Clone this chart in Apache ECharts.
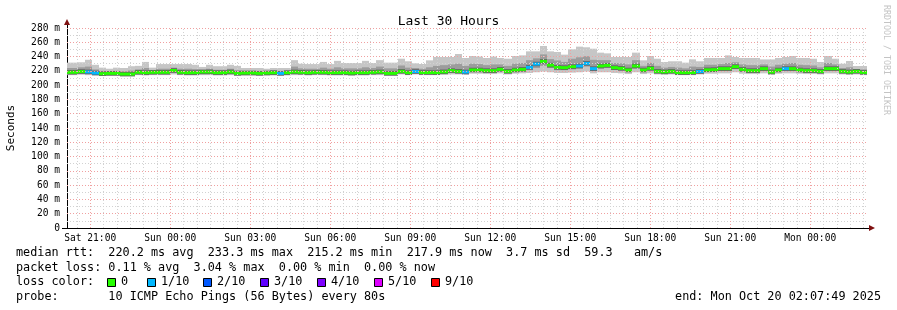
<!DOCTYPE html>
<html>
<head>
    <meta charset="utf-8" />
    <title>Last 30 Hours</title>
    <script src="https://cdn.jsdelivr.net/npm/echarts@6/dist/echarts.min.js"></script>
    <style>
        html, body { margin: 0; padding: 0; background: #fff; }
        #chart { width: 897px; height: 310px; }
    </style>
</head>
<body>
    <div id="chart"></div>
    <script>
        // time in minutes counted from Sat 00:00, one bin = 16 minutes
        var binStart = 1200;
        var binMinutes = 16;
        var viewStart = 1207.8;   // Sat 20:07:49
        var viewEnd = 3007.8;     // Mon 02:07:49

        var medianRtt = [
            218, 218, 219, 218.5, 217, 216, 216.5, 216.5, 215.5, 215.5,
            218, 217.5, 218, 218, 218, 220.5, 218, 217.5, 217.5, 218.5,
            218.5, 217.5, 217.5, 218.5, 216.5, 217, 217, 216.5, 217, 217.5,
            216.5, 217.5, 218.5, 218, 217.5, 218, 218, 217.5, 217.5, 217.5,
            217, 217.5, 217.5, 218, 218.5, 216.5, 216.5, 219.3, 217.5, 219.1,
            217.7, 217.7, 217.5, 218.6, 220.3, 219.3, 218.4, 221.2, 221.2, 220.3,
            220.3, 222.1, 219.3, 221.2, 222.1, 224.9, 229.6, 233.3, 228, 224.9,
            224.5, 225.9, 226.8, 230.5, 223.1, 226.8, 227.7, 224.5, 223.5, 221.2,
            226.8, 221.2, 223.5, 219.3, 218.6, 219.3, 217.5, 217.5, 217.7, 219.1,
            221.4, 221.7, 223.1, 223.1, 225.9, 222.1, 220.3, 220.3, 223.1, 218.4,
            221.2, 223.1, 223.1, 221.2, 220.3, 220.3, 219.3, 223.1, 223.1, 219.3,
            218.4, 219.3, 217.9
        ];
        var maxRtt = [
            231.5, 231.5, 232, 235.5, 228.5, 224.5, 223, 224.5, 224, 226.5,
            227, 232.5, 224.5, 229.5, 229.5, 229.5, 229.5, 229.5, 228.5, 225.5,
            228.5, 226.5, 226.5, 228.5, 227, 224, 224, 224, 223, 224,
            224, 224, 235, 230, 229.5, 229.5, 232.5, 229.5, 234, 231,
            231, 231, 234, 231, 235, 231.5, 231.5, 237, 233.4, 230.5,
            229.6, 234.7, 239.4, 239.4, 239.4, 243.6, 238, 240.8, 240, 238,
            240, 238, 237, 240.8, 241.7, 247.3, 247.3, 254.8, 247.3, 246.4,
            242.7, 250.1, 253.9, 253, 251, 245.5, 244.5, 239.4, 239.4, 239.4,
            245.5, 234.7, 240.8, 237, 232.4, 233.4, 233.4, 231.5, 236.1, 233.4,
            238, 238, 238, 241.7, 239.4, 238, 238, 238, 236, 236,
            238, 239.4, 240.8, 238, 238, 237, 232.4, 240.8, 237, 230,
            233.8, 226.8, 226.8
        ];
        var hiRtt = [
            224, 224, 225, 226, 222, 220, 219.5, 220, 219, 220.5,
            222, 224, 221, 223, 223, 224.5, 223, 223, 222.5, 221.5,
            223, 221.5, 221.5, 223, 221, 220, 220, 220, 219.5, 220.5,
            220, 220.5, 226, 223.5, 223, 223, 224.5, 223, 225, 223.5,
            223.5, 223.5, 225, 224, 226, 223.5, 223.5, 227.5, 224.5, 224,
            223, 225, 227, 228, 229, 230, 227, 230, 229.5, 228,
            229, 229, 227, 230, 231, 235, 237.5, 243, 236.5, 234.5,
            232.5, 237, 239, 240.5, 235.5, 235, 235, 231, 230.5, 229,
            235, 227, 231, 227, 224.5, 225.5, 224.5, 223.5, 226, 225.5,
            228.5, 228.5, 229.5, 231, 232, 229, 228, 228, 229, 226,
            228.5, 230, 231, 228.5, 228, 227.5, 225, 231, 229, 224,
            225, 222.5, 222
        ];
        var loRtt = [
            216, 216, 217, 216.5, 215, 214.5, 214.5, 214.5, 214, 214,
            216, 215.5, 216, 216, 216, 218, 216, 215.5, 215.5, 216.5,
            216.5, 215.5, 215.5, 216.5, 214.5, 215, 215, 214.5, 215, 215.5,
            214.5, 215.5, 216.5, 216, 215.5, 216, 216, 215.5, 215.5, 215.5,
            215, 215.5, 215.5, 216, 216.5, 214.5, 214.5, 217, 215.5, 217,
            215.5, 215.5, 215.5, 216.5, 218, 217, 216.5, 219, 219, 218,
            218, 219.5, 217, 219, 219.5, 221, 224, 227, 224, 221,
            221, 222, 223, 226, 220, 223, 224, 221.5, 220.5, 218.5,
            223, 218.5, 220.5, 217, 216.5, 217, 215.5, 215.5, 215.5, 217,
            219, 219, 220.5, 220.5, 222.5, 219.5, 218, 218, 220.5, 216.5,
            219, 220.5, 220.5, 219, 218, 218, 217, 220.5, 220.5, 217,
            216.5, 217, 216
        ];
        var minRtt = [
            214, 214, 214.5, 214, 213.5, 213, 213, 213, 212.5, 212.5,
            214, 213.5, 214, 214, 214, 215, 214, 213.5, 213.5, 214,
            214, 213.5, 213.5, 214, 213, 213.5, 213.5, 213, 213.5, 213.5,
            213, 213.5, 214, 214, 213.5, 214, 214, 213.5, 213.5, 213.5,
            213, 213.5, 213.5, 214, 214, 213, 213, 215, 214, 215,
            214, 214, 214, 214.5, 215, 215, 214.5, 216, 216, 215.5,
            215.5, 216.5, 215, 216, 216.5, 217, 218, 219, 218, 217,
            217, 217.5, 218, 219, 216.5, 218, 218, 217, 216.5, 215.5,
            218, 215.5, 216.5, 215, 214.5, 215, 214, 214, 214, 215,
            216, 216, 216.5, 216.5, 218, 216, 215.5, 215.5, 216.5, 214.5,
            216, 216.5, 216.5, 216, 215.5, 215.5, 215, 216.5, 216.5, 215,
            214.5, 215, 214
        ];
        // lost pings out of 10, per bin
        var lossTenths = [
            0, 0, 0, 1, 1, 0, 0, 0, 0, 0,
            0, 0, 0, 0, 0, 0, 0, 0, 0, 0,
            0, 0, 0, 0, 0, 0, 0, 0, 0, 0,
            1, 0, 0, 0, 0, 0, 0, 0, 0, 0,
            0, 0, 0, 0, 0, 0, 0, 0, 0, 1,
            0, 0, 0, 0, 0, 0, 1, 0, 0, 0,
            0, 0, 0, 0, 0, 1, 1, 0, 0, 0,
            0, 0, 1, 1, 1, 0, 0, 0, 0, 0,
            0, 0, 0, 0, 0, 0, 0, 0, 0, 1,
            0, 0, 0, 0, 0, 0, 0, 0, 0, 0,
            0, 1, 0, 0, 0, 0, 0, 0, 0, 0,
            0, 0, 0
        ];
        var lossSteps = [0, 1, 2, 3, 4, 5, 9];
        var lossLabels = ['0', '1/10', '2/10', '3/10', '4/10', '5/10', '9/10'];
        var lossColors = ['#26ff00', '#00b8ff', '#0059ff', '#5e00ff', '#7e00ff', '#dd00ff', '#ff0000'];
        var xLabelTimes = [1260, 1440, 1620, 1800, 1980, 2160, 2340, 2520, 2700, 2880];
        var dayNames = ['Sat', 'Sun', 'Mon'];

        var monoFont = '"DejaVu Sans Mono", "Liberation Mono", monospace';
        var redGrid = '#f0a0a0';
        var grayGrid = '#d2d2d2';

        function lossColor(n) {
            var c = lossColors[0];
            for (var i = 0; i < lossSteps.length; i++) {
                if (n >= lossSteps[i]) c = lossColors[i];
            }
            return c;
        }

        var binData = medianRtt.map(function (m, i) {
            var t0 = binStart + i * binMinutes;
            return [t0, t0 + binMinutes, minRtt[i], loRtt[i], hiRtt[i], maxRtt[i], m, lossTenths[i]];
        });

        //绘制 smoke 和 median
        function renderSmoke(params, api) {
            var t0 = api.value(0), t1 = api.value(1);
            function band(lo, hi, color) {
                var p0 = api.coord([t0, hi]);
                var p1 = api.coord([t1, lo]);
                var x0 = Math.round(p0[0]), x1 = Math.round(p1[0]);
                return {
                    type: 'rect',
                    shape: { x: x0, y: p0[1], width: x1 - x0, height: p1[1] - p0[1] },
                    style: { fill: color }
                };
            }
            var med = api.value(6);
            return {
                type: 'group',
                children: [
                    band(api.value(2), api.value(5), '#c6c6c6'),
                    band(api.value(3), api.value(4), '#9c9c9c'),
                    band(med - 3.2, med + 3.2, '#636363'),
                    band(med - 2.1, med + 2.1, lossColor(api.value(7)))
                ]
            };
        }

        // grid lines (drawn over the smoke, like rrdtool)
        var gridLines = [];
        var t, v;
        for (t = 1230; t < viewEnd; t += 30) {
            if (t % 180 !== 0) gridLines.push({ xAxis: t, lineStyle: { color: grayGrid } });
        }
        for (v = 10; v < 280; v += 20) {
            gridLines.push({ yAxis: v, lineStyle: { color: grayGrid } });
        }
        for (t = 1260; t < viewEnd; t += 180) {
            gridLines.push({ xAxis: t, lineStyle: { color: redGrid } });
        }
        for (v = 20; v <= 280; v += 20) {
            gridLines.push({ yAxis: v, lineStyle: { color: redGrid } });
        }

        var graphics = [
            {
                type: 'text', x: 11, y: 128, rotation: Math.PI / 2,
                style: { text: 'Seconds', font: '11px ' + monoFont, fill: '#000', align: 'center', verticalAlign: 'middle' }
            },
            {
                type: 'text', x: 886, y: 60, rotation: -Math.PI / 2,
                style: { text: 'RRDTOOL / TOBI OETIKER', font: '8.3px ' + monoFont, fill: '#c4c4c4', align: 'center', verticalAlign: 'middle' }
            },
            // axis arrows
            { type: 'polygon', shape: { points: [[64, 25], [70, 25], [67, 19]] }, style: { fill: '#7f1010' } },
            { type: 'polygon', shape: { points: [[869, 225], [869, 231], [875, 228]] }, style: { fill: '#7f1010' } },
            { type: 'line', shape: { x1: 867, y1: 228.5, x2: 869, y2: 228.5 }, style: { stroke: '#000', lineWidth: 1 } },
            { type: 'line', shape: { x1: 62, y1: 228.5, x2: 67, y2: 228.5 }, style: { stroke: '#000', lineWidth: 1 } },
            { type: 'line', shape: { x1: 67.5, y1: 25, x2: 67.5, y2: 28 }, style: { stroke: '#000', lineWidth: 1 } }
        ];
        var textRows = [
            ['median rtt:  220.2 ms avg  233.3 ms max  215.2 ms min  217.9 ms now  3.7 ms sd  59.3   am/s', 253],
            ['packet loss: 0.11 % avg  3.04 % max  0.00 % min  0.00 % now', 268],
            ['loss color:', 282],
            ['probe:       10 ICMP Echo Pings (56 Bytes) every 80s', 297]
        ];
        textRows.forEach(function (r) {
            graphics.push({
                type: 'text', x: 16, y: r[1],
                style: { text: r[0], font: '11.8px ' + monoFont, fill: '#000', verticalAlign: 'middle' }
            });
        });
        var squareX = [107, 147, 203, 260, 317, 374, 431];
        lossLabels.forEach(function (lbl, i) {
            graphics.push({
                type: 'rect', shape: { x: squareX[i] + 0.5, y: 278.5, width: 8, height: 8 },
                style: { fill: lossColors[i], stroke: '#000', lineWidth: 1 }
            });
            graphics.push({
                type: 'text', x: squareX[i] + 14, y: 282,
                style: { text: lbl, font: '11.8px ' + monoFont, fill: '#000', verticalAlign: 'middle' }
            });
        });
        graphics.push({
            type: 'text', x: 881, y: 297,
            style: { text: 'end: Mon Oct 20 02:07:49 2025', font: '11.8px ' + monoFont, fill: '#000', align: 'right', verticalAlign: 'middle' }
        });

        var myChart = echarts.init(document.getElementById('chart'));
        myChart.setOption({
            backgroundColor: '#fff',
            animation: false,
            title: {
                text: 'Last 30 Hours',
                left: 'center',
                top: 10,
                textStyle: { fontFamily: monoFont, fontSize: 13, fontWeight: 'normal', color: '#000' }
            },
            grid: { left: 67, right: 30, top: 28, bottom: 82 },
            xAxis: {
                type: 'value',
                min: viewStart,
                max: viewEnd,
                splitLine: { show: false },
                axisTick: { show: false },
                axisLine: { show: true, onZero: false, lineStyle: { color: '#000', width: 1 } },
                axisLabel: {
                    customValues: xLabelTimes,
                    margin: 5,
                    fontFamily: monoFont,
                    fontSize: 9.6,
                    color: '#000',
                    formatter: function (m) {
                        var day = Math.floor(m / 1440);
                        var hh = Math.floor((m % 1440) / 60);
                        return dayNames[day] + ' ' + (hh < 10 ? '0' : '') + hh + ':00';
                    }
                }
            },
            yAxis: {
                type: 'value',
                min: 0,
                max: 280,
                interval: 20,
                splitLine: { show: false },
                axisTick: { show: false },
                axisLine: { show: true, lineStyle: { color: '#000', width: 1 } },
                axisLabel: {
                    margin: 7,
                    fontFamily: monoFont,
                    fontSize: 9.6,
                    color: '#000',
                    formatter: function (v) { return v === 0 ? '0' : v + ' m'; }
                }
            },
            graphic: graphics,
            series: [
                {
                    type: 'custom',
                    renderItem: renderSmoke,
                    encode: { x: [0, 1], y: [2, 5] },
                    clip: true,
                    silent: true,
                    z: 2,
                    data: binData
                },
                {
                    type: 'line',
                    data: [],
                    z: 4,
                    markLine: {
                        silent: true,
                        symbol: ['none', 'none'],
                        label: { show: false },
                        lineStyle: { type: [1, 2], width: 1 },
                        data: gridLines
                    }
                }
            ]
        });
    </script>
</body>
</html>
